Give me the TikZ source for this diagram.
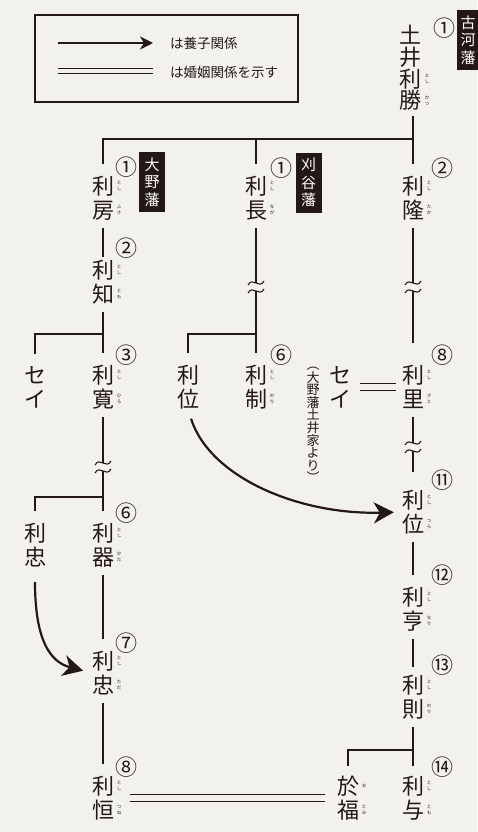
\documentclass[tikz,border=0pt]{standalone}
\usepackage{fontspec}
\newfontfamily\jp{Noto Sans CJK JP}
\usetikzlibrary{calc}
\usetikzlibrary{arrows.meta}

\definecolor{sumi}{RGB}{35,24,21}
\definecolor{washi}{RGB}{243,241,238}

\tikzset{
  mei/.style={font=\jp\fontsize{22}{24}\selectfont, text=sumi, align=center, inner sep=0pt},
  yomi/.style={font=\jp\fontsize{4.5}{6}\selectfont, text=sumi, align=center, inner sep=0pt},
  ban/.style={font=\jp\fontsize{22}{22}\selectfont, text=sumi, inner sep=0pt},
  han/.style={fill=sumi, text=white, font=\jp\fontsize{15}{17.5}\selectfont, align=center,
    inner sep=0pt, minimum width=26pt, minimum height=60pt},
  kei/.style={draw=sumi, line width=1.6pt},
  kon/.style={draw=sumi, line width=0.9pt, double=washi, double distance=6.5pt},
  ya/.style={draw=sumi, line width=2.2pt, -{Stealth[length=20pt,width=21pt,inset=6pt]}},
  fromname/.style={shorten <=8pt},
  toname/.style={shorten >=12pt},
  nami/.pic={
    \draw[sumi, line width=1.1pt] (-8,-2) .. controls (-3,-11) and (3,3) .. (8,-6);
    \draw[sumi, line width=1.1pt] (-8,6) .. controls (-3,-3) and (3,11) .. (8,2);
  },
}

\begin{document}
\begin{tikzpicture}[x=1pt, y=-1pt]
\useasboundingbox (0,0) rectangle (477,832);
\fill[washi] (0,0) rectangle (477,832);

% hanrei
\node[draw=sumi, line width=1.2pt, minimum width=263pt, minimum height=87pt, inner sep=0pt] (hanrei) at (166.5,58.5) {};
\coordinate (ya1) at (58,43);
\coordinate (ya2) at (153,43);
\coordinate (kon1) at (58,71);
\coordinate (kon2) at (153,71);
\draw[draw=sumi, line width=1.8pt, -{Stealth[length=13pt,width=13pt,inset=4pt]}] (ya1) -- (ya2);
\draw[draw=sumi, line width=0.9pt, double=washi, double distance=3.6pt] (kon1) -- (kon2);
\node[anchor=west, font=\jp\fontsize{13.5}{13.5}\selectfont, text=sumi, inner sep=0pt] (hanrei-ya) at (170,43) {は養子関係};
\node[anchor=west, font=\jp\fontsize{13.5}{13.5}\selectfont, text=sumi, inner sep=0pt] (hanrei-kon) at (170,72) {は婚姻関係を示す};

% han
\node[han, minimum width=22pt] (koga) at (468,40) {古\\河\\藩};
\node[han] (ono) at (152,182) {大\\野\\藩};
\node[han] (kariya) at (308.5,182.5) {刈\\谷\\藩};

% names
\node[mei, font=\jp\fontsize{22}{21.7}\selectfont] (katsu) at (410,68) {土\\井\\利\\勝};
\foreach \nm/\x/\y/\kanji in {fusa/103/198/利\\房, tomo/103/282/利\\知, naga/256/198/利\\長,
  taka/413/198/利\\隆, seiO/35/387/セ\\イ, hiro/103/387/利\\寛, tsuraK/188/387/利\\位,
  noriK/256/387/利\\制, seiK/340/387/セ\\イ, sato/413/387/利\\里, tadaO/35/545/利\\忠,
  kata/103/545/利\\器, tada/103/673/利\\忠, tsura/413/512/利\\位, nari/413/609/利\\亨,
  nori/413/697/利\\則, tomi/348/798/於\\福, toshitomo/413/798/利\\与, tsune/103/798/利\\恒}
  \node[mei] (\nm) at (\x,\y) {\kanji};
\node[font=\jp\fontsize{13}{12.6}\selectfont, text=sumi, align=center, inner sep=0pt] (seiK-note) at (313,425)
  {︵\\大\\野\\藩\\土\\井\\家\\よ\\り\\︶};

% yomigana
\node[yomi] (katsu-y1) at ($(katsu)+(17,11)$) {と\\し};
\node[yomi] (katsu-y2) at ($(katsu)+(17,32.5)$) {か\\つ};
\foreach \nm/\ra/\rb in {fusa/と\\し/ふ\\さ, tomo/と\\し/と\\も, naga/と\\し/な\\が, taka/と\\し/た\\か,
  hiro/と\\し/ひ\\ろ, noriK/と\\し/の\\り, sato/と\\し/さ\\と, kata/と\\し/か\\た, tada/と\\し/た\\だ,
  tsura/と\\し/つ\\ら, nari/と\\し/な\\り, nori/と\\し/の\\り, tomi/お/と\\み,
  toshitomo/と\\し/と\\も, tsune/と\\し/つ\\ね}
{
  \node[yomi] (\nm-y1) at ($(\nm)+(16,-12)$) {\ra};
  \node[yomi] (\nm-y2) at ($(\nm)+(16,12)$) {\rb};
}

% numbers
\foreach \nm/\x/\y/\k in {katsu/444/28/①, fusa/126/167/①, tomo/126/248/②, hiro/126/355/③,
  kata/126/513/⑥, tada/126/643/⑦, tsune/126/767/⑧, naga/281/168/①, noriK/281/355/⑥,
  taka/442/168/②, sato/442/355/⑧, tsura/442/480/⑪, nari/442/575/⑫, nori/442/665/⑬,
  toshitomo/442/767/⑭}
  \node[ban] (\nm-no) at (\x,\y) {\k};

% Koga
\coordinate (bunki) at (413,139);
\draw[kei, shorten <=5pt, toname] (katsu.south -| taka) -- (taka.north);
\draw[kei, toname] (bunki) -| (fusa.north);
\draw[kei, toname] (bunki -| naga) -- (naga.north);

% Ono
\draw[kei, fromname, shorten >=3pt] (fusa.south) -- (tomo.north);
\coordinate (bunkiO) at (103,334);
\draw[kei, fromname] (tomo.south) -- (bunkiO);
\draw[kei, toname] (bunkiO) -- (hiro.north);
\draw[kei, toname] (bunkiO) -| (seiO.north);
\coordinate (nami3) at (103,467);
\draw[kei, fromname] (hiro.south) -- ([yshift=4pt]nami3);
\pic at (nami3) {nami};
\coordinate (bunkiO2) at (103,497);
\draw[kei, toname] ([yshift=-4pt]nami3) -- (kata.north);
\draw[kei, toname] (bunkiO2) -| (tadaO.north);
\draw[kei, fromname, toname] (kata.south) -- (tada.north);
\draw[kei, fromname, toname] (tada.south) -- (tsune.north);
\draw[ya, shorten <=15pt, shorten >=9pt] (tadaO.south) .. controls (35,640) and (50,662) .. (tada.west);

% Kariya
\coordinate (nami1) at (256,287);
\coordinate (bunkiK) at (256,334);
\draw[kei, fromname] (naga.south) -- ([yshift=4pt]nami1);
\pic at (nami1) {nami};
\draw[kei, toname] ([yshift=-4pt]nami1) -- (noriK.north);
\draw[kei, toname] (bunkiK) -| (tsuraK.north);
\draw[ya, shorten <=10pt, shorten >=8pt] (tsuraK.south) .. controls (210,478) and (300,515) .. (tsura.west);

% Koga (honke)
\coordinate (nami2) at (413,287);
\draw[kei, fromname] (taka.south) -- ([yshift=4pt]nami2);
\pic at (nami2) {nami};
\draw[kei, shorten >=22pt] ([yshift=-4pt]nami2) -- (sato.north);
\coordinate (nami4) at (413,447);
\draw[kei, fromname] (sato.south) -- ([yshift=4pt]nami4);
\pic at (nami4) {nami};
\draw[kei, shorten >=18pt] ([yshift=-4pt]nami4) -- (tsura.north);
\draw[kei, fromname, toname] (tsura.south) -- (nari.north);
\draw[kei, fromname, shorten >=8pt] (nari.south) -- (nori.north);
\coordinate (bunkiH) at (413,750);
\draw[kei, fromname] (nori.south) -- (bunkiH);
\draw[kei, shorten >=10pt] (bunkiH) -- (toshitomo.north);
\draw[kei, shorten >=10pt] (bunkiH) -| (tomi.north);

% kon'in
\draw[kon, shorten <=9pt, shorten >=6pt] (seiK.east) -- (sato.west);
\draw[kon, shorten <=16pt, shorten >=12pt] (tsune.east) -- (tomi.west);
\end{tikzpicture}
\end{document}
